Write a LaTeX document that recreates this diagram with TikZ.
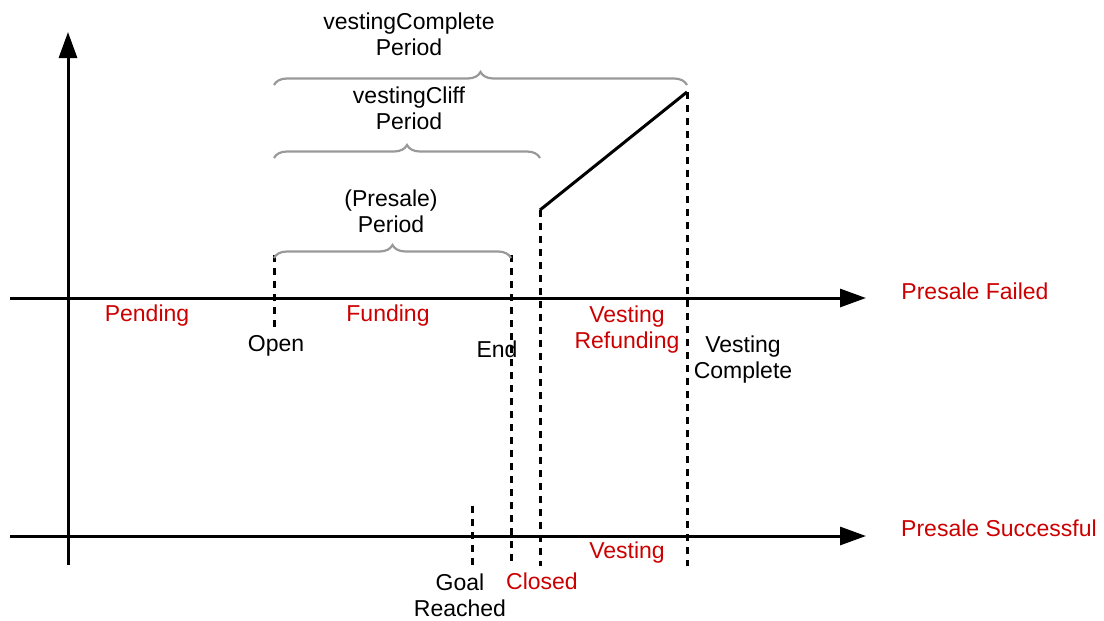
\documentclass[tikz,border=0pt]{standalone}
\usepackage{fontspec}
\setmainfont{Liberation Sans}
\usetikzlibrary{arrows.meta,decorations.pathreplacing}
\definecolor{lblred}{HTML}{CC0000}
\definecolor{bracegray}{HTML}{999999}
\begin{document}
\begin{tikzpicture}[x=1pt,y=-1pt,
  axis/.style={line width=3pt,-{Triangle[length=26pt,width=18pt]}},
  dashline/.style={line width=3pt,dash pattern=on 7pt off 6pt},
  bracestyle/.style={draw=bracegray,line width=2.2pt,decorate,decoration={brace,amplitude=13pt}},
  lbl/.style={font=\fontsize{23}{26}\selectfont,align=center,inner sep=0pt},
  rlbl/.style={lbl,text=lblred}]
\useasboundingbox (0,0) rectangle (1104,621);
% axes
\coordinate (vbot) at (68,565);
\coordinate (vtop) at (68,32);
\coordinate (t0) at (10,298);
\coordinate (t1) at (866,298);
\coordinate (b0) at (10,536);
\coordinate (b1) at (866,536);
\draw[axis] (vbot) -- (vtop);
\draw[axis] (t0) -- (t1);
\draw[axis] (b0) -- (b1);
% dashed lines
\coordinate (open0) at (274,255);
\coordinate (open1) at (274,332);
\coordinate (end0) at (511,255);
\coordinate (end1) at (511,566);
\coordinate (clo0) at (540,210);
\coordinate (clo1) at (540,566);
\coordinate (vc0) at (687,92);
\coordinate (vc1) at (687,566);
\coordinate (gr0) at (472,506);
\coordinate (gr1) at (472,566);
\draw[dashline] (open0) -- (open1);
\draw[dashline] (end0) -- (end1);
\draw[dashline] (clo0) -- (clo1);
\draw[dashline] (vc0) -- (vc1);
\draw[dashline] (gr0) -- (gr1);
% vesting slope
\draw[line width=3pt] (clo0) -- (vc0);
% braces
\coordinate (bc0) at (274,85);
\coordinate (bc1) at (687,85);
\coordinate (bl0) at (274,158);
\coordinate (bl1) at (540,158);
\coordinate (bp0) at (274,258);
\coordinate (bp1) at (511,258);
\draw[bracestyle] (bc0) -- (bc1);
\draw[bracestyle] (bl0) -- (bl1);
\draw[bracestyle] (bp0) -- (bp1);
% labels
\node[lbl] (vcp) at (409,34) {vestingComplete\\Period};
\node[lbl] (vlp) at (409,108) {vestingCliff\\Period};
\node[lbl] (pp) at (391,211) {(Presale)\\Period};
\node[rlbl] (pend) at (147,316) {Pending};
\node[rlbl] (fund) at (388,316) {Funding};
\node[lbl] (open) at (276,346) {Open};
\node[lbl] (endl) at (497,349) {End};
\node[rlbl] (vref) at (627,330) {Vesting\\Refunding};
\node[lbl] (vcomp) at (743,360) {Vesting\\Complete};
\node[rlbl] (pf) at (975,291) {Presale Failed};
\node[rlbl] (ps) at (999,528) {Presale Successful};
\node[rlbl] (vest) at (627,553) {Vesting};
\node[lbl] (goal) at (460,595) {Goal\\Reached};
\node[rlbl] (closed) at (542,581) {Closed};
\end{tikzpicture}
\end{document}
